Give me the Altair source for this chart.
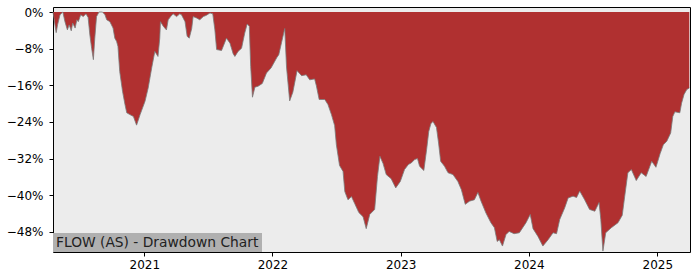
import altair as alt
import pandas as pd

# ---- data ----
dates = [
    "2020-04-16", "2020-04-25", "2020-04-29", "2020-05-06", "2020-05-14", "2020-05-20", "2020-05-27", "2020-06-01", "2020-06-07", "2020-06-11",
    "2020-06-18", "2020-06-23", "2020-06-27", "2020-07-04", "2020-07-11", "2020-07-19", "2020-07-25", "2020-07-30", "2020-08-04", "2020-08-09",
    "2020-08-13", "2020-08-18", "2020-08-25", "2020-09-04", "2020-09-11", "2020-09-16", "2020-09-25", "2020-10-04", "2020-10-09", "2020-10-14",
    "2020-10-18", "2020-10-23", "2020-10-31", "2020-11-07", "2020-11-12", "2020-11-21", "2020-12-01", "2020-12-10", "2020-12-20", "2021-01-03",
    "2021-01-12", "2021-01-22", "2021-01-31", "2021-02-09", "2021-02-14", "2021-02-16", "2021-02-24", "2021-03-05", "2021-03-10", "2021-03-17",
    "2021-03-24", "2021-04-03", "2021-04-12", "2021-04-17", "2021-04-27", "2021-05-03", "2021-05-09", "2021-05-16", "2021-05-20", "2021-05-30",
    "2021-06-08", "2021-06-18", "2021-06-27", "2021-07-07", "2021-07-15", "2021-07-21", "2021-07-26", "2021-08-09", "2021-08-23", "2021-09-02",
    "2021-09-11", "2021-09-16", "2021-09-25", "2021-10-05", "2021-10-14", "2021-10-21", "2021-10-27", "2021-10-31", "2021-11-05", "2021-11-12",
    "2021-11-21", "2021-12-03", "2021-12-15", "2021-12-28", "2022-01-13", "2022-01-19", "2022-01-27", "2022-02-05", "2022-02-10", "2022-02-19",
    "2022-02-28", "2022-03-12", "2022-03-25", "2022-04-07", "2022-04-17", "2022-05-01", "2022-05-06", "2022-05-14", "2022-05-30", "2022-06-08",
    "2022-06-18", "2022-06-27", "2022-07-02", "2022-07-11", "2022-07-21", "2022-07-26", "2022-08-04", "2022-08-14", "2022-08-23", "2022-09-04",
    "2022-09-16", "2022-09-25", "2022-10-05", "2022-10-19", "2022-10-27", "2022-11-03", "2022-11-12", "2022-11-21", "2022-12-05", "2022-12-18",
    "2022-12-31", "2023-01-12", "2023-01-23", "2023-02-01", "2023-02-10", "2023-02-18", "2023-02-24", "2023-03-08", "2023-03-16", "2023-03-22",
    "2023-03-28", "2023-04-03", "2023-04-13", "2023-04-19", "2023-04-25", "2023-05-06", "2023-05-16", "2023-05-30", "2023-06-13", "2023-06-23",
    "2023-07-04", "2023-07-16", "2023-07-30", "2023-08-09", "2023-08-18", "2023-09-01", "2023-09-15", "2023-09-25", "2023-10-03", "2023-10-09",
    "2023-10-18", "2023-10-28", "2023-11-06", "2023-11-20", "2023-12-05", "2023-12-24", "2024-01-05", "2024-01-13", "2024-01-27", "2024-02-10",
    "2024-02-25", "2024-03-10", "2024-03-20", "2024-03-29", "2024-04-12", "2024-04-22", "2024-05-06", "2024-05-16", "2024-05-25", "2024-06-08",
    "2024-06-22", "2024-07-07", "2024-07-19", "2024-07-24", "2024-07-30", "2024-08-07", "2024-08-23", "2024-09-11", "2024-09-23", "2024-09-30",
    "2024-10-09", "2024-10-19", "2024-11-02", "2024-11-16", "2024-11-30", "2024-12-16", "2024-12-28", "2025-01-09", "2025-01-18", "2025-01-28",
    "2025-02-08", "2025-02-14", "2025-02-20", "2025-03-06", "2025-03-11", "2025-03-18", "2025-03-26", "2025-04-02",
]

drawdown = [
    0.0, -4.5, -2.8, -0.6, 0.0, -2.1, -3.9, -2.8, -4.1, -2.4,
    -3.5, -1.7, -2.1, -0.6, -1.0, -0.4, -1.2, -5.0, -7.9, -10.4,
    -5.7, -1.0, 0.0, 0.0, -0.6, -1.7, -2.1, -3.5, -5.7, -6.4,
    -7.5, -13.0, -17.3, -20.2, -22.0, -22.4, -22.8, -24.7, -22.4, -19.5,
    -16.6, -12.2, -8.6, -9.7, -5.7, -2.1, -3.1, -3.9, -1.7, -1.0,
    -0.4, -1.0, -0.4, -0.6, -2.1, -5.3, -5.7, -3.6, -1.0, -1.3,
    -1.7, -1.0, -0.7, -0.2, -0.4, -3.9, -8.2, -8.4, -5.7, -6.8,
    -9.1, -9.7, -8.6, -7.9, -4.6, -2.6, -3.1, -11.9, -18.6, -16.4,
    -16.2, -15.6, -13.3, -12.2, -10.0, -9.3, -6.6, -3.6, -12.0, -19.4,
    -17.5, -12.8, -13.9, -13.7, -14.8, -14.6, -16.1, -19.1, -19.1, -20.2,
    -22.4, -24.8, -29.0, -33.5, -34.8, -39.2, -41.0, -40.3, -41.8, -43.8,
    -44.7, -47.3, -44.2, -43.1, -35.9, -31.5, -33.1, -35.5, -36.4, -38.4,
    -37.0, -34.4, -33.3, -32.9, -32.2, -32.0, -33.7, -34.6, -30.0, -26.1,
    -24.4, -23.9, -25.2, -28.6, -32.6, -33.7, -35.1, -35.5, -37.0, -38.8,
    -42.0, -41.3, -41.0, -39.4, -41.3, -43.9, -46.0, -47.1, -50.1, -49.7,
    -51.1, -48.6, -47.9, -48.4, -48.2, -46.0, -44.2, -47.3, -49.0, -51.1,
    -49.7, -48.2, -48.4, -45.3, -42.8, -40.6, -40.2, -40.5, -39.1, -41.0,
    -43.1, -43.5, -41.6, -45.3, -52.2, -48.2, -47.1, -46.0, -44.4, -40.3,
    -35.1, -34.4, -36.8, -35.1, -35.9, -32.6, -33.9, -30.9, -29.0, -28.2,
    -26.4, -22.8, -21.8, -22.0, -19.9, -18.0, -16.9, -16.6,
]

y_ticks = [0, -8, -16, -24, -32, -40, -48]
x_tick_years = [2021, 2022, 2023, 2024, 2025]
chart_title = "FLOW (AS) - Drawdown Chart"

df = pd.DataFrame({"date": dates, "dd": drawdown})
title_df = pd.DataFrame({"t": [chart_title]})

W, H = 637, 245
FONT = "DejaVu Sans"

x_enc = alt.X(
    "date:T",
    scale=alt.Scale(
        type="utc",
        domain=[
            alt.DateTime(year=2020, month=4, date=16, utc=True),
            alt.DateTime(year=2025, month=4, date=4, utc=True),
        ],
    ),
    axis=alt.Axis(
        values=[alt.DateTime(year=y, month=1, date=1, utc=True) for y in x_tick_years],
        format="%Y",
        domain=False,
        grid=False,
        tickColor="black",
        tickSize=4,
        tickWidth=1,
        labelFont=FONT,
        labelFontSize=12,
        labelColor="black",
        labelPadding=3,
    ),
    title=None,
)

y_enc = alt.Y(
    "dd:Q",
    scale=alt.Scale(domain=[-52.4, 1.1], nice=False, zero=False),
    axis=alt.Axis(
        values=y_ticks,
        labelExpr="datum.value == 0 ? '0%' : '\u2212' + abs(datum.value) + '%'",
        domain=False,
        grid=False,
        tickColor="black",
        tickSize=4,
        tickWidth=1,
        labelFont=FONT,
        labelFontSize=12,
        labelColor="black",
        labelPadding=6,
    ),
    title=None,
)

base = alt.Chart(df)

area = base.mark_area(color="#b03030", opacity=1).encode(
    x=x_enc, y=y_enc, y2=alt.datum(0)
)

edge = base.mark_line(color="#7a7a7a", strokeWidth=0.8).encode(
    x=alt.X("date:T"), y=alt.Y("dd:Q")
)

box = alt.Chart(title_df).mark_rect(color="#b0b0b0").encode(
    x=alt.value(0), x2=alt.value(209), y=alt.value(226), y2=alt.value(245)
)

label = alt.Chart(title_df).mark_text(
    align="left", baseline="alphabetic", font=FONT, fontSize=13.8, color="#222222"
).encode(x=alt.value(3), y=alt.value(240), text="t:N")

chart = (
    alt.layer(area, edge, box, label)
    .properties(
        width=W,
        height=H,
        autosize=alt.AutoSizeParams(type="none"),
        padding={"left": 53, "top": 7, "right": 10, "bottom": 28},
        background="white",
    )
    .configure_view(fill="#ececec", stroke="black", strokeWidth=1)
)

chart.save("out.html", embed_options={"renderer": "svg", "actions": False})
